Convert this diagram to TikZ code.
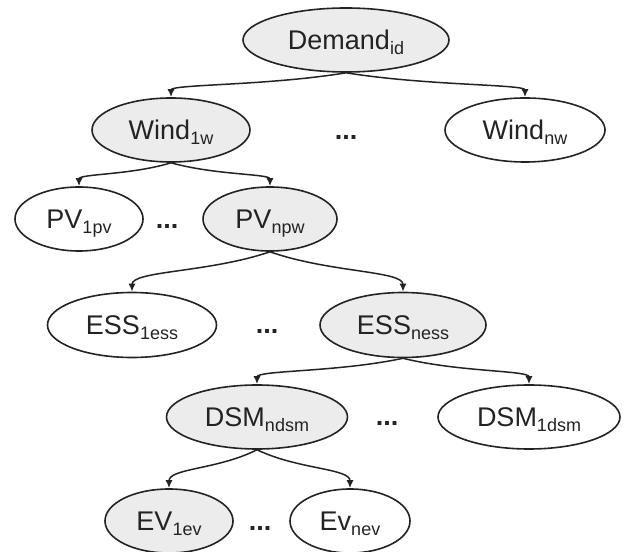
\documentclass[tikz,border=0pt]{standalone}
\usepackage{fontspec}
\setmainfont{Liberation Sans}
\usetikzlibrary{shapes.geometric,arrows.meta}
\definecolor{shadefill}{RGB}{236,236,236}
\definecolor{inkgray}{RGB}{35,35,35}
\newcommand{\idx}[1]{\raisebox{-5pt}[0pt][0pt]{\fontsize{18}{18}\selectfont #1}}
\begin{document}
\begin{tikzpicture}[x=1pt,y=1pt,
  every node/.style={font=\fontsize{27}{30}\selectfont,text=inkgray},
  state/.style={ellipse,draw=inkgray,line width=1.6pt,inner sep=0pt,minimum height=64pt},
  shaded/.style={state,fill=shadefill},
  link/.style={draw=inkgray,line width=1.5pt,-{Latex[length=8pt,width=7pt]}},
  dots/.style={anchor=base,inner sep=0pt,font=\fontsize{27}{30}\bfseries}]
\useasboundingbox (0,0) rectangle (639,551);
% level 1
\node[shaded,minimum width=206pt] (dem) at (346,511) {Demand\idx{id}};
% level 2
\node[shaded,minimum width=158pt] (w1) at (171,421) {Wind\idx{1w}};
\node[state,minimum width=160pt] (wn) at (525,421) {Wind\idx{nw}};
\node[dots] (dw) at (346,411) {...};
% level 3
\node[state,minimum width=128pt] (pv1) at (79,332) {PV\idx{1pv}};
\node[shaded,minimum width=134pt] (pvn) at (270,332) {PV\idx{npw}};
\node[dots] (dpv) at (167,322) {...};
% level 4
\node[state,minimum width=169pt,minimum height=65pt] (ess1) at (132,226) {ESS\idx{1ess}};
\node[shaded,minimum width=166pt,minimum height=65pt] (essn) at (403,226) {ESS\idx{ness}};
\node[dots] (dess) at (267,217) {...};
% level 5
\node[shaded,minimum width=181pt] (dsmn) at (257,134) {DSM\idx{ndsm}};
\node[state,minimum width=182pt] (dsm1) at (529,134) {DSM\idx{1dsm}};
\node[dots] (ddsm) at (387,125) {...};
% level 6
\node[shaded,minimum width=128pt] (ev1) at (169,30) {EV\idx{1ev}};
\node[state,minimum width=120pt] (evn) at (350,30) {Ev\idx{nev}};
\node[dots] (dev) at (260,21) {...};
% links
\draw[link] (dem.south) .. controls +(-79,-13) and +(0,13) .. (w1.north);
\draw[link] (dem.south) .. controls +(81,-13) and +(0,13) .. (wn.north);
\draw[link] (w1.south) .. controls +(-41,-12.5) and +(0,12.5) .. (pv1.north);
\draw[link] (w1.south) .. controls +(45,-12.5) and +(0,12.5) .. (pvn.north);
\draw[link] (pvn.south) .. controls +(-62,-21) and +(0,21) .. (ess1.north);
\draw[link] (pvn.south) .. controls +(60,-21) and +(0,21) .. (essn.north);
\draw[link] (essn.south) .. controls +(-66,-14) and +(0,14) .. (dsmn.north);
\draw[link] (essn.south) .. controls +(57,-14) and +(0,14) .. (dsm1.north);
\draw[link] (dsmn.south) .. controls +(-40,-20) and +(0,20) .. (ev1.north);
\draw[link] (dsmn.south) .. controls +(42,-20) and +(0,20) .. (evn.north);
\end{tikzpicture}
\end{document}
